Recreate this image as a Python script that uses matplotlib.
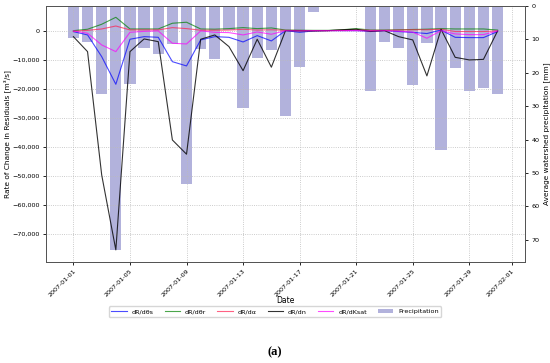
import matplotlib
matplotlib.use("Agg")
import matplotlib.pyplot as plt
import matplotlib.dates as mdates
import matplotlib.ticker as mticker
import pandas as pd

# данные (по дням, январь 2007)
dates = pd.date_range("2007-01-01", "2007-01-31", freq="D")

precip = [9.7, 10.7, 26.4, 73.0, 23.3, 12.7, 14.4, 11.4, 53.2, 13.0,
          16.0, 7.1, 30.4, 15.7, 13.2, 33.0, 18.2, 1.8, 0.3, 0.0,
          0.0, 25.5, 10.9, 12.7, 23.7, 11.0, 43.1, 18.7, 25.5, 24.4, 26.4]

d_theta_s = [-340, -1480, -8960, -18500, -2970, -2070, -2290, -10700, -12170, -3200,
             -2070, -2300, -3900, -1720, -3550, 0, -570, -100, 0, 0,
             0, -200, 0, -300, -600, -1000, 200, -2300, -2400, -2400, -300]

d_theta_r = [0, 480, 2200, 4600, 580, 580, 580, 2550, 2900, 580,
             500, 700, 1040, 700, 930, 200, 150, 100, 100, 300,
             700, 200, 200, 300, 400, 500, 700, 580, 580, 580, 200]

d_alpha = [-250, 100, 580, 1600, 250, 250, 250, 1040, 700, 150,
           150, 200, 460, 200, 300, 100, 50, 0, 0, 100,
           300, 100, 100, 200, 300, 300, 480, -300, -300, -300, -100]

d_n = [-2070, -7240, -49750, -75600, -7240, -2860, -3790, -37700, -42600, -2970,
       -1480, -5500, -13800, -2970, -12600, 0, -100, -100, 0, 300,
       500, -300, 0, -2070, -3200, -15600, 480, -9200, -10100, -9900, -100]

d_ksat = [-100, -900, -4930, -7240, -570, -250, -100, -4350, -4590, -100,
          -570, -680, -1480, -450, -1250, 0, -100, 0, 0, 0,
          0, -100, 0, -200, -500, -2620, 0, -1140, -1370, -1370, -100]

fig = plt.figure(figsize=(5.5, 3.63), dpi=100)
ax1 = fig.add_axes([0.0836, 0.278, 0.871, 0.7055])
ax2 = ax1.twinx()

bars = ax2.bar(dates, precip, width=0.8, color="darkblue", alpha=0.3, label="Precipitation")
ax2.invert_yaxis()

lw = 0.8
l1, = ax1.plot(dates, d_theta_s, color="blue", alpha=0.7, lw=lw, label="dR/dθs")
l2, = ax1.plot(dates, d_theta_r, color="green", alpha=0.7, lw=lw, label="dR/dθr")
l3, = ax1.plot(dates, d_alpha, color="#ff2050", alpha=0.7, lw=lw, label="dR/dα")
l4, = ax1.plot(dates, d_n, color="black", alpha=0.8, lw=lw, label="dR/dn")
l5, = ax1.plot(dates, d_ksat, color="magenta", alpha=0.7, lw=lw, label="dR/dKsat")

ax1.set_zorder(ax2.get_zorder() + 1)
ax1.patch.set_visible(False)

ax1.set_xlim(dates[0] - pd.Timedelta(days=1.94), dates[-1] + pd.Timedelta(days=1.94))
ax1.set_ylim(-79800, 8500)
ax1.yaxis.set_major_locator(mticker.MultipleLocator(10000))
ax1.yaxis.set_major_formatter(mticker.StrMethodFormatter("{x:,.0f}"))
ax1.xaxis.set_major_locator(mdates.DayLocator(bymonthday=[1, 5, 9, 13, 17, 21, 25, 29]))
ax1.xaxis.set_major_formatter(mdates.DateFormatter("%Y-%m-%d"))

fs = 4.6
ax1.tick_params(labelsize=fs, length=2.5, width=0.6, pad=2)
ax2.tick_params(labelsize=fs, length=2.5, width=0.6, pad=2)
for lab in ax1.get_xticklabels():
    lab.set_rotation(45)
    lab.set_ha("right")
    lab.set_rotation_mode("anchor")

ax1.grid(True, linestyle=":", linewidth=0.6, color="#bbbbbb")
for ax in (ax1, ax2):
    for s in ax.spines.values():
        s.set_linewidth(0.7)
        s.set_color("#555555")

ax1.set_xlabel("Date", fontsize=5.5, labelpad=-1)
ax1.set_ylabel("Rate of Change in Residuals [m³/s]", fontsize=5.3)
ax1.yaxis.set_label_coords(-0.073, 0.5)
ax2.set_ylabel("Average watershed precipitation [mm]", fontsize=5.3, labelpad=3)

fig.legend(handles=[l1, l2, l3, l4, l5, bars], loc="upper center",
           bbox_to_anchor=(0.5, 0.165), ncol=6, fontsize=fs,
           frameon=True, handlelength=2.4, columnspacing=1.7,
           borderpad=0.4, fancybox=True)

fig.text(0.5, 0.03, "(a)", ha="center", va="center", fontsize=9,
         fontweight="bold", family="Liberation Serif")

fig.savefig("out.png", dpi=100)
